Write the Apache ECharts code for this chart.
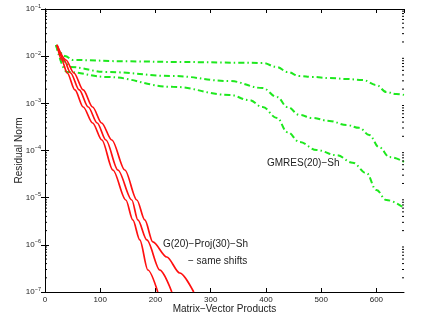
<!DOCTYPE html>
<html>
<head>
<meta charset="utf-8">
<script src="https://cdn.jsdelivr.net/npm/echarts@6/dist/echarts.min.js"></script>
<style>
  html, body { margin: 0; padding: 0; background: #fff; }
  #chart { width: 433px; height: 325px; }
</style>
</head>
<body>
<div id="chart"></div>
<script>
// red: G(20)-Proj(30)-Sh, three shift sets
const redAX = [21.7, 30.2, 40.3, 54.2, 69.2, 86.2, 103, 122.9, 146.4, 159, 171.7, 186.2, 204.2];
const redAY = [1.73e-2, 8.30e-3, 4.40e-3, 1.92e-3, 8.36e-4, 3.83e-4, 1.67e-4, 3.86e-5, 8.93e-6, 3.37e-6, 1.27e-6, 2.93e-7, 1.0e-7];
const redBX = [21.7, 34.3, 46.4, 62, 78.3, 94.5, 110.3, 132, 157.2, 168.1, 184.4, 207.9, 229.6];
const redBY = [1.73e-2, 8.30e-3, 4.40e-3, 1.92e-3, 8.36e-4, 3.83e-4, 1.67e-4, 3.86e-5, 8.93e-6, 3.37e-6, 1.27e-6, 2.93e-7, 1.0e-7];
const redCX = [21.7, 38, 52.4, 69.2, 86.2, 102.5, 121, 144.6, 166.3, 180.7, 195.2, 220.5, 244, 269.3];
const redCY = [1.73e-2, 8.30e-3, 4.40e-3, 1.92e-3, 8.36e-4, 3.83e-4, 1.67e-4, 3.86e-5, 8.93e-6, 3.37e-6, 1.15e-6, 5.52e-7, 2.53e-7, 1.0e-7];

// green: GMRES(20)-Sh
const grnAX = [20, 36, 51, 150, 250, 352, 394, 420, 439, 461, 484, 515, 546, 575, 600, 618, 636, 650];
const grnAY = [1.73e-2, 1.01e-2, 8.30e-3, 7.76e-3, 7.50e-3, 7.28e-3, 7.16e-3, 5.89e-3, 4.61e-3, 3.80e-3, 3.63e-3, 3.44e-3, 3.28e-3, 3.13e-3, 2.45e-3, 1.74e-3, 1.58e-3, 1.51e-3];
const grnBX = [20, 36, 45, 112, 231, 334, 394, 420, 439, 461, 484, 515, 546, 569, 587, 605, 624, 650];
const grnBY = [1.73e-2, 7.59e-3, 5.89e-3, 4.61e-3, 3.80e-3, 2.97e-3, 2.11e-3, 1.36e-3, 8.36e-4, 5.66e-4, 4.90e-4, 4.23e-4, 3.47e-4, 3.02e-4, 2.14e-4, 1.17e-4, 7.24e-5, 5.75e-5];
const grnCX = [20, 40, 112, 231, 334, 370, 394, 420, 439, 461, 492, 528, 557, 582, 600, 618, 650];
const grnCY = [1.73e-2, 4.61e-3, 3.63e-3, 2.24e-3, 1.51e-3, 1.17e-3, 8.32e-4, 4.90e-4, 2.45e-4, 1.51e-4, 1.02e-4, 7.94e-5, 5.50e-5, 3.31e-5, 1.45e-5, 8.91e-6, 6.03e-6];

// minor log ticks
const decades = [1e-7, 1e-6, 1e-5, 1e-4, 1e-3, 1e-2];
const minorMult = [2, 3, 4, 5, 6, 7, 8, 9];

const font = 'Liberation Sans';
const ink = '#222';

function pairs(xs, ys) {
  return xs.map((x, i) => [x, ys[i]]);
}

const minorTicks = [];
decades.forEach(d => minorMult.forEach(m => minorTicks.push([0, m * d])));

function redLine(xs, ys) {
  return {
    type: 'line', data: pairs(xs, ys), showSymbol: false, smooth: 0.3, smoothMonotone: 'x',
    lineStyle: { color: '#ff1010', width: 1.7 }, silent: true, z: 3
  };
}
function greenLine(xs, ys) {
  return {
    type: 'line', data: pairs(xs, ys), showSymbol: false, smooth: 0.4, smoothMonotone: 'x',
    lineStyle: { color: '#1ee81e', width: 2, type: [6, 3, 1.5, 3] }, silent: true, z: 2
  };
}

const chart = echarts.init(document.getElementById('chart'));

const xBase = {
  type: 'value', min: 0, max: 650, interval: 100,
  axisLine: { show: true, lineStyle: { color: '#000', width: 1 } },
  axisTick: { inside: true, length: 4, lineStyle: { color: '#000' } },
  splitLine: { show: false }
};
const yBase = {
  type: 'log', logBase: 10, min: 1e-7, max: 1e-1, splitNumber: 6,
  axisLine: { show: true, lineStyle: { color: '#000', width: 1 } },
  axisTick: { inside: true, length: 4, lineStyle: { color: '#000' } },
  splitLine: { show: false }, minorTick: { show: false }
};

chart.setOption({
  backgroundColor: '#fff',
  animation: false,
  grid: { left: 45, top: 9, right: 29, bottom: 33, containLabel: false, outerBoundsMode: 'none' },
  xAxis: [
    Object.assign({}, xBase, {
      position: 'bottom',
      axisLabel: { fontSize: 8, color: ink, fontFamily: font, margin: 4, showMaxLabel: false },
      name: 'Matrix\u2212Vector Products', nameLocation: 'middle', nameGap: 12, nameMoveOverlap: false,
      nameTextStyle: { fontSize: 10, color: ink, fontFamily: font }
    }),
    Object.assign({}, xBase, { position: 'top', axisLabel: { show: false } })
  ],
  yAxis: [
    Object.assign({}, yBase, {
      position: 'left',
      axisLabel: {
        margin: 4, fontFamily: font, color: ink,
        formatter: v => {
          const e = Math.round(Math.log10(v));
          return '{b|10}{e|' + (e < 0 ? '\u2212' : '') + Math.abs(e) + '}';
        },
        rich: {
          b: { fontSize: 8, color: ink, fontFamily: font },
          e: { fontSize: 5.5, color: ink, fontFamily: font, padding: [0, 0, 6, 0] }
        }
      },
      name: 'Residual Norm', nameLocation: 'middle', nameGap: 21, nameMoveOverlap: false,
      nameTextStyle: { fontSize: 10, color: ink, fontFamily: font }
    }),
    Object.assign({}, yBase, { position: 'right', axisLabel: { show: false } })
  ],
  graphic: [
    { type: 'text', left: 267, top: 158, style: { text: 'GMRES(20)\u2212Sh', fontSize: 10, fontFamily: font, fill: ink } },
    { type: 'text', left: 163, top: 239, style: { text: 'G(20)\u2212Proj(30)\u2212Sh', fontSize: 10, fontFamily: font, fill: ink } },
    { type: 'text', left: 188, top: 256, style: { text: '\u2212 same shifts', fontSize: 10, fontFamily: font, fill: ink } }
  ],
  series: [
    greenLine(grnAX, grnAY),
    greenLine(grnBX, grnBY),
    greenLine(grnCX, grnCY),
    redLine(redAX, redAY),
    redLine(redBX, redBY),
    redLine(redCX, redCY),
    {
      type: 'custom', data: minorTicks, silent: true, z: 5,
      renderItem: (params, api) => {
        const v = api.value(1);
        const l = api.coord([0, v]);
        const r = api.coord([650, v]);
        const st = { stroke: '#000', lineWidth: 1 };
        return {
          type: 'group', children: [
            { type: 'line', shape: { x1: l[0], y1: l[1], x2: l[0] + 2, y2: l[1] }, style: st },
            { type: 'line', shape: { x1: r[0], y1: r[1], x2: r[0] - 2, y2: r[1] }, style: st }
          ]
        };
      }
    }
  ]
});

window.addEventListener('resize', function() {
  chart.resize();
});
</script>
</body>
</html>
